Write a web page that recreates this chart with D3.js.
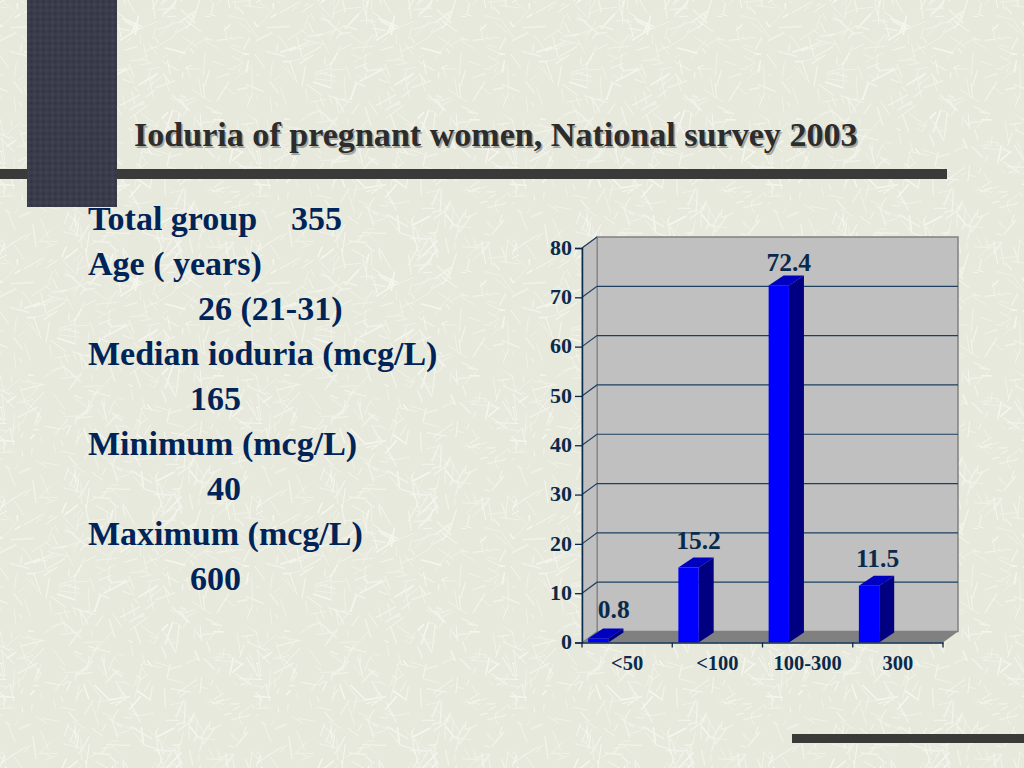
<!DOCTYPE html>
<html><head><meta charset="utf-8">
<script src="https://d3js.org/d3.v7.min.js"></script>
<style>html,body{margin:0;padding:0;background:#e8e9dd;overflow:hidden}svg{display:block}text{font-family:"Liberation Serif",serif;font-weight:bold}</style>
</head><body><div id="c"></div>
<script>
const categories=["<50","<100","100-300","300"];
const values=[0.8,15.2,72.4,11.5];
const valueLabels=["0.8","15.2","72.4","11.5"];
const yTicks=[0,10,20,30,40,50,60,70,80];
const title="Ioduria of pregnant women, National survey 2003";
const textLines=[["Total group    355",88],["Age ( years)",88],["26 (21-31)",198],["Median ioduria (mcg/L)",88],["165",190],["Minimum (mcg/L)",88],["40",207],["Maximum (mcg/L)",88],["600",190]];

const svg=d3.select("#c").append("svg").attr("width",1024).attr("height",768);
const defs=svg.append("defs");

// background texture (decoration only)
const rnd=d3.randomLcg(0.37);
const pat=defs.append("pattern").attr("id","paper").attr("patternUnits","userSpaceOnUse").attr("width",256).attr("height",256);
pat.append("rect").attr("width",256).attr("height",256).attr("fill","#e8e9dd");
for(let i=0;i<560;i++){
  const x=rnd()*256,y=rnd()*256,a=rnd()*Math.PI,l=5+rnd()*20;
  for(const [ox,oy] of [[0,0],[-256,0],[0,-256],[-256,-256]]){
    pat.append("line").attr("x1",x+ox).attr("y1",y+oy).attr("x2",x+ox+Math.cos(a)*l).attr("y2",y+oy+Math.sin(a)*l)
      .attr("stroke",i%3?"#f1f2e9":"#f6f6ef").attr("stroke-width",i%4?1:1.6);
  }
}
const dots=defs.append("pattern").attr("id","leather").attr("patternUnits","userSpaceOnUse").attr("width",6).attr("height",6);
dots.append("rect").attr("width",6).attr("height",6).attr("fill","#3b3c4b");
dots.append("circle").attr("cx",1.5).attr("cy",1.5).attr("r",1).attr("fill","#2f303c");
dots.append("circle").attr("cx",4.5).attr("cy",4.5).attr("r",1).attr("fill","#464858");
svg.append("rect").attr("width",1024).attr("height",768).attr("fill","url(#paper)");

// decorative bars
svg.append("rect").attr("x",0).attr("y",169).attr("width",947).attr("height",10).attr("fill","#3a3a38");
svg.append("rect").attr("x",27).attr("y",0).attr("width",90).attr("height",207).attr("fill","url(#leather)");
svg.append("rect").attr("x",792).attr("y",734).attr("width",232).attr("height",9).attr("fill","#3a3a38");

// title
svg.append("text").attr("x",135.5).attr("y",147.5).attr("font-size",34.1).attr("fill","#a5a59c").text(title);
svg.append("text").attr("x",134).attr("y",146).attr("font-size",34.1).attr("fill","#2c2c2c").text(title);

// left text
svg.selectAll("text.body").data(textLines).join("text").attr("class","body")
  .attr("x",d=>d[1]).attr("y",(d,i)=>230+i*45).attr("font-size",34).attr("fill","#002458")
  .style("white-space","pre").text(d=>d[0]);

// chart
const navy="#0a2a4c";
const y=d3.scaleLinear().domain([0,80]).range([642.5,248]);
const x=d3.scaleBand().domain(categories).range([582,943]);
const dx=15,dy=-11,bdx=15,bdy=-10,bw=x.bandwidth()*0.225,bOff=x.bandwidth()*0.068;
const labelRaise=[21,19,14,19];
const labelNudge=[15.5,10,10,8.5];
const pts=a=>a.map(p=>p.join(",")).join(" ");
const g=svg.append("g");
// back wall
g.append("polygon").attr("points",pts([[x.range()[0]+dx,y(80)+dy],[x.range()[1]+dx,y(80)+dy],[x.range()[1]+dx,y(0)+dy],[x.range()[0]+dx,y(0)+dy]]))
  .attr("fill","#c0c0c0").attr("stroke","#808080").attr("stroke-width",1.5);
// side wall
g.append("polygon").attr("points",pts([[582,y(80)],[582+dx,y(80)+dy],[582+dx,y(0)+dy],[582,y(0)]]))
  .attr("fill","#c0c0c0").attr("stroke","#808080").attr("stroke-width",1);
// floor
g.append("polygon").attr("points",pts([[582,y(0)],[582+dx,y(0)+dy],[943+dx,y(0)+dy],[943,y(0)]])).attr("fill","#808080");
// grid
const grid=yTicks.filter(v=>v>0&&v<80);
g.selectAll("polyline.grid").data(grid).join("polyline").attr("class","grid").attr("fill","none")
  .attr("stroke","#1e3f60").attr("stroke-width",1.2)
  .attr("points",v=>pts([[582,y(v)],[582+dx,y(v)+dy],[943+dx,y(v)+dy]]));
g.append("line").attr("x1",582).attr("y1",y(80)).attr("x2",582+dx).attr("y2",y(80)+dy).attr("stroke","#1e3f60").attr("stroke-width",1.2);
// bars
const bars=g.selectAll("g.bar").data(values).join("g").attr("class","bar");
const bx=(d,i)=>x(categories[i])+bOff;
bars.append("polygon").attr("fill","#0000c0")
  .attr("points",(d,i)=>pts([[bx(d,i),y(d)],[bx(d,i)+bdx,y(d)+bdy],[bx(d,i)+bw+bdx,y(d)+bdy],[bx(d,i)+bw,y(d)]]));
bars.append("polygon").attr("fill","#000080")
  .attr("points",(d,i)=>pts([[bx(d,i)+bw,y(d)],[bx(d,i)+bw+bdx,y(d)+bdy],[bx(d,i)+bw+bdx,y(0)+bdy],[bx(d,i)+bw,y(0)]]));
bars.append("rect").attr("fill","#0000ff").attr("x",bx).attr("y",d=>y(d)).attr("width",bw).attr("height",d=>y(0)-y(d));
// axes
const ay=d3.axisLeft(y).tickValues(yTicks).tickSize(7).tickPadding(3).tickFormat(d3.format("d"));
const gy=svg.append("g").attr("transform","translate(582,0)").call(ay);
const ax=d3.axisBottom(x).tickSize(0).tickPadding(15);
const gx=svg.append("g").attr("transform",`translate(0,${y(0)})`).call(ax);
[gy,gx].forEach(s=>{s.selectAll("path").attr("stroke",navy).attr("stroke-width",1.5);s.selectAll("line").attr("stroke",navy).attr("stroke-width",1.3);
  s.selectAll("text").attr("fill",navy).style("font-family",'"Liberation Serif",serif').style("font-weight","bold").style("font-size","22px");});
gy.selectAll("text").attr("dy","0.28em");
gx.selectAll("text").style("font-size","20.5px").attr("dy","0.62em");
gx.selectAll("line.b").data(d3.range(categories.length+1)).join("line").attr("class","b")
  .attr("x1",i=>x.range()[0]+i*x.step()).attr("x2",i=>x.range()[0]+i*x.step()).attr("y1",0).attr("y2",5)
  .attr("stroke",navy).attr("stroke-width",1.3);
// value labels
svg.selectAll("text.val").data(values).join("text").attr("class","val")
  .attr("x",(d,i)=>bx(d,i)+bw/2+labelNudge[i]).attr("y",(d,i)=>y(d)-labelRaise[i]).attr("text-anchor","middle")
  .attr("font-size",25.5).attr("fill",navy).text((d,i)=>valueLabels[i]);
</script></body></html>
